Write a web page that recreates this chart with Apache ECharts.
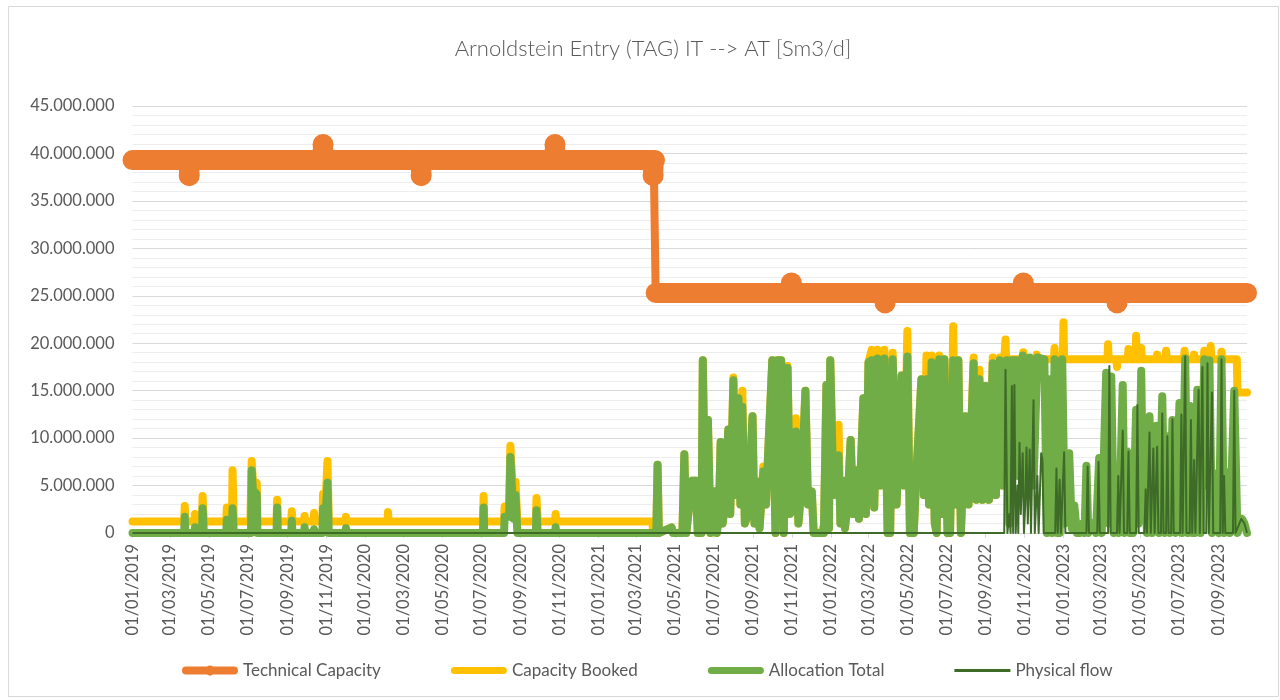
<!DOCTYPE html>
<html><head><meta charset="utf-8">
<script src="https://cdn.jsdelivr.net/npm/echarts@6/dist/echarts.min.js"></script>
<style>html,body{margin:0;padding:0;background:#fff}#c{width:1280px;height:700px}</style>
</head><body><div id="c"></div>
<script>
// x values are days counted from startDate (daily gas days)
const startDate = '2019-01-01';
const endDay = 1749;
const tickDates = ['2019-01-01','2019-03-01','2019-05-01','2019-07-01','2019-09-01','2019-11-01',
  '2020-01-01','2020-03-01','2020-05-01','2020-07-01','2020-09-01','2020-11-01',
  '2021-01-01','2021-03-01','2021-05-01','2021-07-01','2021-09-01','2021-11-01',
  '2022-01-01','2022-03-01','2022-05-01','2022-07-01','2022-09-01','2022-11-01',
  '2023-01-01','2023-03-01','2023-05-01','2023-07-01','2023-09-01'];
const seriesNames = ['Technical Capacity','Capacity Booked','Allocation Total','Physical flow'];

const technicalCapacity = [
  [0,39.3e6],[88,39.3e6],[89,37.66e6],[90,39.3e6],
  [298,39.3e6],[299,40.94e6],[300,39.3e6],
  [452,39.3e6],[453,37.66e6],[454,39.3e6],
  [662,39.3e6],[663,40.94e6],[664,39.3e6],
  [816,39.3e6],[817,37.66e6],[818,39.3e6],
  [820,39.3e6],[821,25.3e6],
  [1033,25.3e6],[1034,26.35e6],[1035,25.3e6],
  [1180,25.3e6],[1181,24.25e6],[1182,25.3e6],
  [1397,25.3e6],[1398,26.35e6],[1399,25.3e6],
  [1544,25.3e6],[1545,24.25e6],[1546,25.3e6],
  [1749,25.3e6]];

const capacityBooked = [
  [0,1.2e6],[81,1.2e6],[82,2.85e6],[83,1.2e6],[97,1.2e6],[98,2.0e6],[99,1.2e6],
  [109,1.2e6],[110,3.9e6],[112,1.2e6],[147,1.2e6],[148,2.7e6],[149,1.2e6],
  [156,1.2e6],[157,6.6e6],[159,1.2e6],[185,1.2e6],[187,7.6e6],[189,5.5e6],[195,5.3e6],[196,1.2e6],
  [226,1.2e6],[227,3.5e6],[228,1.2e6],[249,1.2e6],[250,2.3e6],[251,1.2e6],
  [269,1.2e6],[270,1.8e6],[271,1.2e6],[284,1.2e6],[285,2.1e6],[286,1.2e6],
  [298,1.2e6],[299,4.1e6],[302,2.0e6],[306,7.6e6],[308,1.2e6],[334,1.2e6],[335,1.7e6],[336,1.2e6],
  [400,1.2e6],[401,2.2e6],[402,1.2e6],[550,1.2e6],[551,3.9e6],[552,1.2e6],
  [583,1.2e6],[584,2.8e6],[591,2.8e6],[593,9.2e6],[598,3.0e6],[601,5.4e6],[604,1.2e6],
  [633,1.2e6],[634,3.7e6],[636,1.2e6],[663,1.2e6],[664,2.0e6],[665,1.2e6],
  [768,1.2e6],[769,1.4e6],[770,1.2e6],[816,1.2e6],[817,0],
  [822,0],[824,7.2e6],[826,0],[846,0.6e6],[848,0],[863,0],[866,8.3e6],[869,0],[878,5.5e6],[884,5.5e6],[887,0],
  [893,0],[895,18.2e6],[899,0.5e6],[903,11.9e6],[907,0],[910,1.2e6],[914,4.4e6],[917,0],[920,1.5e6],[923,9.6e6],
  [926,1.0e6],[930,3.0e6],[935,10.9e6],[938,2.0e6],[943,16.4e6],[946,4.0e6],[951,14.2e6],[954,3.0e6],[957,15.0e6],
  [961,1.0e6],[966,2.0e6],[973,12.3e6],[976,1.0e6],[981,5.4e6],[984,0.5e6],[990,7.0e6],[994,3.0e6],
  [1004,18.2e6],[1009,0],[1012,18.2e6],[1018,18.2e6],[1022,0],[1028,17.6e6],[1032,2.0e6],[1037,3.0e6],[1041,12.1e6],
  [1045,1.0e6],[1050,5.0e6],[1056,15.0e6],[1060,3.0e6],[1066,4.4e6],[1069,0],[1081,0],[1083,0.5e6],[1085,0],
  [1089,15.6e6],[1093,0.5e6],[1095,18.2e6],[1100,4.0e6],[1108,11.4e6],[1111,1.0e6],[1114,5.5e6],[1118,0.5e6],
  [1122,3.0e6],[1127,9.8e6],[1131,2.0e6],[1136,6.6e6],[1140,1.5e6],[1147,14.2e6],[1151,2.0e6],[1155,18.0e6],
  [1160,19.3e6],[1164,2.7e6],[1169,19.3e6],[1174,5.0e6],[1180,19.3e6],[1185,0],[1189,0],[1193,19.0e6],[1199,3.0e6],
  [1207,16.6e6],[1211,5.0e6],[1216,21.3e6],[1220,0],[1226,0],[1230,6.0e6],[1238,16.2e6],[1242,4.0e6],[1246,18.7e6],
  [1250,3.0e6],[1254,18.7e6],[1259,1.0e6],[1262,0],[1266,18.7e6],[1270,2.0e6],[1274,18.3e6],[1279,0],[1283,0],
  [1288,21.8e6],[1292,3.0e6],[1296,18.2e6],[1300,0],[1303,0],[1307,12.3e6],[1312,3.0e6],[1320,18.5e6],[1324,3.5e6],
  [1329,17.2e6],[1334,3.5e6],[1339,15.5e6],[1344,3.5e6],[1350,18.5e6],[1355,4.0e6],[1361,18.5e6],[1366,5.0e6],
  [1368,18.3e6],[1369,18.3e6],[1370,20.4e6],[1371,18.3e6],[1397,18.3e6],[1398,19.06e6],[1399,18.3e6],
  [1418,18.3e6],[1419,18.8e6],[1420,18.3e6],[1446,18.3e6],[1447,19.5e6],[1448,18.3e6],
  [1460,18.3e6],[1461,22.2e6],[1462,18.3e6],[1530,18.3e6],[1531,19.9e6],[1532,18.3e6],
  [1544,18.3e6],[1545,17.5e6],[1546,18.3e6],[1562,18.3e6],[1563,19.4e6],[1564,18.3e6],
  [1574,18.3e6],[1575,20.8e6],[1576,18.3e6],[1582,18.3e6],[1583,19.5e6],[1584,18.3e6],
  [1607,18.3e6],[1608,18.8e6],[1609,18.3e6],[1621,18.3e6],[1622,19.2e6],[1623,18.3e6],
  [1650,18.3e6],[1651,19.2e6],[1652,18.3e6],[1665,18.3e6],[1666,18.8e6],[1667,18.3e6],
  [1681,18.3e6],[1682,19.2e6],[1683,18.3e6],[1691,18.3e6],[1692,19.7e6],[1693,18.3e6],
  [1708,18.3e6],[1709,19.1e6],[1710,18.3e6],[1733,18.3e6],[1734,14.8e6],[1749,14.8e6]];

const allocationTotal = [
  [0,0],[81,0],[82,1.7e6],[83,0],[97,0],[98,0.6e6],[99,0],[109,0],[110,2.6e6],[112,0],
  [147,0],[148,1.4e6],[149,0],[156,0],[157,2.6e6],[159,0],
  [186,0],[187,6.6e6],[189,4.5e6],[195,4.1e6],[196,0],[226,0],[227,2.7e6],[228,0],
  [249,0],[250,1.3e6],[251,0],[269,0],[270,0.6e6],[271,0],[284,0],[285,0.4e6],[286,0],
  [298,0],[299,2.6e6],[302,0.8e6],[306,5.3e6],[308,0],[334,0],[335,0.5e6],[336,0],
  [550,0],[551,2.7e6],[552,0],[583,0],[584,1.7e6],[591,1.7e6],[593,8.0e6],[598,1.5e6],[601,4.0e6],[604,0],
  [633,0],[634,2.4e6],[636,0],[663,0],[664,0.6e6],[665,0],[768,0],[769,0.1e6],[770,0],
  [822,0],[824,7.2e6],[826,0],[846,0.6e6],[848,0],[863,0],[866,8.3e6],[869,0],[878,5.5e6],[884,5.5e6],[887,0],
  [893,0],[895,18.2e6],[899,0.5e6],[903,11.9e6],[907,0],[910,1.2e6],[914,4.4e6],[917,0],[920,1.5e6],[923,9.6e6],
  [926,1.0e6],[930,3.0e6],[935,10.9e6],[938,2.0e6],[943,16.1e6],[946,4.0e6],[951,14.2e6],[954,3.0e6],[957,13.3e6],
  [961,1.0e6],[966,2.0e6],[973,12.3e6],[976,1.0e6],[981,5.4e6],[984,0.5e6],[990,6.5e6],[994,3.0e6],
  [1004,18.2e6],[1009,0],[1012,18.2e6],[1018,18.2e6],[1022,0],[1028,17.4e6],[1032,2.0e6],[1037,3.0e6],[1041,10.7e6],
  [1045,1.0e6],[1050,5.0e6],[1056,15.0e6],[1060,3.0e6],[1066,4.4e6],[1069,0],[1085,0],
  [1089,15.6e6],[1093,0.5e6],[1095,18.2e6],[1100,4.0e6],[1108,8.2e6],[1111,1.0e6],[1114,5.5e6],[1118,0.5e6],
  [1122,3.0e6],[1127,9.8e6],[1131,2.0e6],[1136,6.6e6],[1140,1.5e6],[1147,14.2e6],[1151,2.0e6],[1155,18.0e6],
  [1160,18.2e6],[1164,2.7e6],[1169,18.4e6],[1174,5.0e6],[1180,18.4e6],[1185,0],[1189,0],[1193,18.3e6],[1199,3.0e6],
  [1207,16.6e6],[1211,5.0e6],[1216,18.6e6],[1220,0],[1226,0],[1230,6.0e6],[1238,16.2e6],[1242,4.0e6],[1246,16.2e6],
  [1250,3.0e6],[1254,18.0e6],[1259,1.0e6],[1262,0],[1266,18.3e6],[1270,2.0e6],[1274,18.3e6],[1279,0],[1283,0],
  [1288,18.2e6],[1292,3.0e6],[1296,18.2e6],[1300,0],[1303,0],[1307,12.3e6],[1312,3.0e6],[1320,17.9e6],[1324,3.5e6],
  [1329,16.2e6],[1334,3.5e6],[1339,15.5e6],[1344,3.5e6],[1350,17.9e6],[1355,4.0e6],[1361,18.2e6],[1366,5.0e6],
  [1372,18.2e6],[1376,1.0e6],[1380,18.2e6],[1387,18.2e6],[1391,6.0e6],[1397,18.7e6],[1402,4.0e6],[1408,18.5e6],
  [1414,5.0e6],[1420,18.5e6],[1431,18.3e6],[1435,0],[1439,16.2e6],[1443,0],[1447,18.3e6],[1451,0],[1455,0],
  [1459,18.3e6],[1463,1.0e6],[1470,8.4e6],[1474,0.5e6],[1478,2.9e6],[1482,0],[1487,0],[1491,1.0e6],[1494,0],
  [1497,7.1e6],[1500,0],[1507,1.0e6],[1512,0],[1517,7.9e6],[1521,0],[1528,16.9e6],[1532,1.0e6],[1536,16.5e6],
  [1540,0],[1544,4.6e6],[1548,0],[1554,15.6e6],[1557,0],[1561,8.6e6],[1565,0],[1570,0],[1575,13.0e6],[1579,1.0e6],
  [1583,17.1e6],[1586,3.0e6],[1588,9.9e6],[1592,0],[1596,12.3e6],[1600,0],[1603,2.0e6],[1607,11.3e6],[1611,0],
  [1616,14.4e6],[1620,0],[1624,10.2e6],[1628,0],[1632,11.9e6],[1637,0],[1643,13.7e6],[1647,0],[1652,18.4e6],
  [1656,0],[1659,13.4e6],[1663,0],[1667,0],[1671,15.1e6],[1676,0],[1682,18.3e6],[1686,5.0e6],[1690,18.2e6],
  [1694,0],[1697,0],[1701,6.3e6],[1705,0],[1709,18.3e6],[1713,0],[1718,6.4e6],[1722,0],[1729,15.0e6],[1734,0],
  [1741,1.5e6],[1745,1.0e6],[1749,0]];

const physicalFlow = [
  [0,0],[1368,0],[1370,17.2e6],[1373,0],[1376,2.0e6],[1378,0],[1380,15.5e6],[1382,0],[1384,15.6e6],[1386,0],
  [1389,5.0e6],[1390,0],[1392,9.5e6],[1394,2.0e6],[1397,8.4e6],[1399,0],[1401,3.0e6],[1403,9.0e6],[1405,1.0e6],
  [1408,8.8e6],[1410,0],[1414,14.0e6],[1416,0],[1420,6.0e6],[1422,0],[1426,8.4e6],[1428,7.7e6],[1430,0],
  [1448,0],[1450,6.8e6],[1452,0],[1455,5.6e6],[1457,0],[1462,8.5e6],[1464,0],[1497,0],[1499,7.0e6],[1501,0],
  [1514,0],[1516,7.5e6],[1518,0],[1531,0],[1533,17.6e6],[1535,0],[1545,0],[1547,6.0e6],[1549,0],[1552,0],
  [1554,10.8e6],[1556,0],[1561,0],[1563,8.6e6],[1565,0],[1575,0],[1577,13.5e6],[1579,0],[1588,0],[1590,4.6e6],
  [1592,0],[1594,0],[1596,10.6e6],[1598,0],[1600,0],[1602,8.9e6],[1604,0],[1606,0],[1608,9.1e6],[1610,0],
  [1614,0],[1616,12.6e6],[1618,0],[1622,0],[1624,10.2e6],[1626,0],[1630,0],[1632,12.0e6],[1634,0],[1644,0],
  [1646,12.5e6],[1648,0],[1650,0],[1652,18.6e6],[1654,0],[1659,0],[1661,11.9e6],[1663,0],[1664,0],[1666,7.7e6],
  [1668,0],[1671,0],[1673,15.1e6],[1675,0],[1677,0],[1679,17.5e6],[1681,0],[1685,0],[1687,17.9e6],[1689,0],
  [1692,0],[1694,14.8e6],[1696,0],[1707,0],[1709,18.3e6],[1711,0],[1713,6.0e6],[1715,0],[1727,0],[1729,15.0e6],
  [1731,0],[1740,1.5e6],[1745,1.0e6],[1749,0]];

const MS_DAY = 86400000;
const t0 = Date.parse(startDate + 'T00:00:00Z');
const dayOf = s => Math.round((Date.parse(s + 'T00:00:00Z') - t0) / MS_DAY);
const tickDays = tickDates.map(dayOf);
const pad = n => (n < 10 ? '0' : '') + n;
const fmtDay = d => { const dt = new Date(t0 + d * MS_DAY); return pad(dt.getUTCDate()) + '/' + pad(dt.getUTCMonth() + 1) + '/' + dt.getUTCFullYear(); };
const fmtNum = v => String(Math.round(v)).replace(/\B(?=(\d{3})+(?!\d))/g, '.');

// thick band for technical capacity: same data, broken where the level steps
const tcBand = [];
technicalCapacity.forEach((p, i) => {
  if (i > 0 && Math.abs(p[1] - technicalCapacity[i - 1][1]) > 5e6) tcBand.push([(p[0] + technicalCapacity[i - 1][0]) / 2, '-']);
  tcBand.push(p);
});

const ICON_DOT_LINE = 'path://M4,2 H25 A5,5 0 0 1 31,2 H52 A4,4 0 0 1 52,10 H31 A5,5 0 0 1 25,10 H4 A4,4 0 0 1 4,2 Z';
const ICON_THICK = 'path://M3.5,0 H52.5 A3.5,3.5 0 0 1 52.5,7 H3.5 A3.5,3.5 0 0 1 3.5,0 Z';
const ICON_THIN = 'path://M0,0 H56 V3 H0 Z';

const FONT = 'Lato, "Open Sans", sans-serif';
const chart = echarts.init(document.getElementById('c'), null, { renderer: 'canvas' });
chart.setOption({
  animation: false,
  backgroundColor: '#ffffff',
  title: {
    text: 'Arnoldstein Entry (TAG) IT --> AT [Sm3/d]',
    left: 653, top: 38, textAlign: 'center', padding: 0,
    textStyle: { fontFamily: FONT, fontSize: 22, fontWeight: 300, color: '#595959' }
  },
  graphic: [{ type: 'rect', shape: { x: 8.5, y: 6.5, width: 1270, height: 690 }, style: { fill: 'none', stroke: '#d9d9d9', lineWidth: 1 }, silent: true }],
  legend: {
    data: [
      { name: seriesNames[0], icon: ICON_DOT_LINE },
      { name: seriesNames[1], icon: ICON_THICK },
      { name: seriesNames[2], icon: ICON_THICK },
      { name: seriesNames[3], icon: ICON_THIN }
    ],
    top: 657, left: 177, itemWidth: 56, itemHeight: 12, itemGap: 70, symbolKeepAspect: true,
    textStyle: { fontFamily: FONT, fontSize: 17, color: '#595959' }
  },
  grid: { left: 132.5, right: 33, top: 106, bottom: 167 },
  xAxis: {
    type: 'value', min: 0, max: endDay,
    splitLine: { show: false },
    axisLine: { show: true, lineStyle: { color: '#d9d9d9', width: 1 } },
    axisTick: { show: true, customValues: tickDays, length: 5, lineStyle: { color: '#d9d9d9' } },
    axisLabel: { customValues: tickDays, rotate: 90, margin: 11, formatter: v => fmtDay(v), fontFamily: FONT, fontSize: 16.5, color: '#595959' }
  },
  yAxis: {
    type: 'value', min: 0, max: 45e6, interval: 5e6,
    axisLine: { show: false }, axisTick: { show: false },
    splitLine: { lineStyle: { color: '#d9d9d9', width: 1 } },
    minorTick: { show: false, splitNumber: 5 },
    minorSplitLine: { show: true, lineStyle: { color: '#ededed', width: 1 } },
    axisLabel: { margin: 18, formatter: v => fmtNum(v), fontFamily: FONT, fontSize: 16.5, color: '#595959' }
  },
  series: [
    { name: 'Technical Capacity band', type: 'line', data: tcBand, showSymbol: false, symbol: 'none', silent: true,
      lineStyle: { color: '#ED7D31', width: 20, cap: 'round', join: 'round' }, z: 2 },
    { name: seriesNames[0], type: 'line', data: technicalCapacity, symbol: 'circle',
      symbolSize: (v, p) => { const i = p.dataIndex, a = technicalCapacity[i - 1], b = technicalCapacity[i + 1];
        return (a && b && a[1] !== v[1] && b[1] !== v[1]) ? 21 : 0; },
      itemStyle: { color: '#ED7D31' }, lineStyle: { color: '#ED7D31', width: 8, cap: 'round', join: 'round' }, z: 2 },
    { name: seriesNames[1], type: 'line', data: capacityBooked, symbol: 'none',
      itemStyle: { color: '#FFC000' }, lineStyle: { color: '#FFC000', width: 8, cap: 'round', join: 'round' }, z: 3 },
    { name: seriesNames[2], type: 'line', data: allocationTotal, symbol: 'none',
      itemStyle: { color: '#70AD47' }, lineStyle: { color: '#70AD47', width: 8, cap: 'round', join: 'round' }, z: 4 },
    { name: seriesNames[3], type: 'line', data: physicalFlow, symbol: 'none',
      itemStyle: { color: '#3E6B27' }, lineStyle: { color: '#3E6B27', width: 2, join: 'round' }, z: 5 }
  ]
});
</script>
</body></html>
